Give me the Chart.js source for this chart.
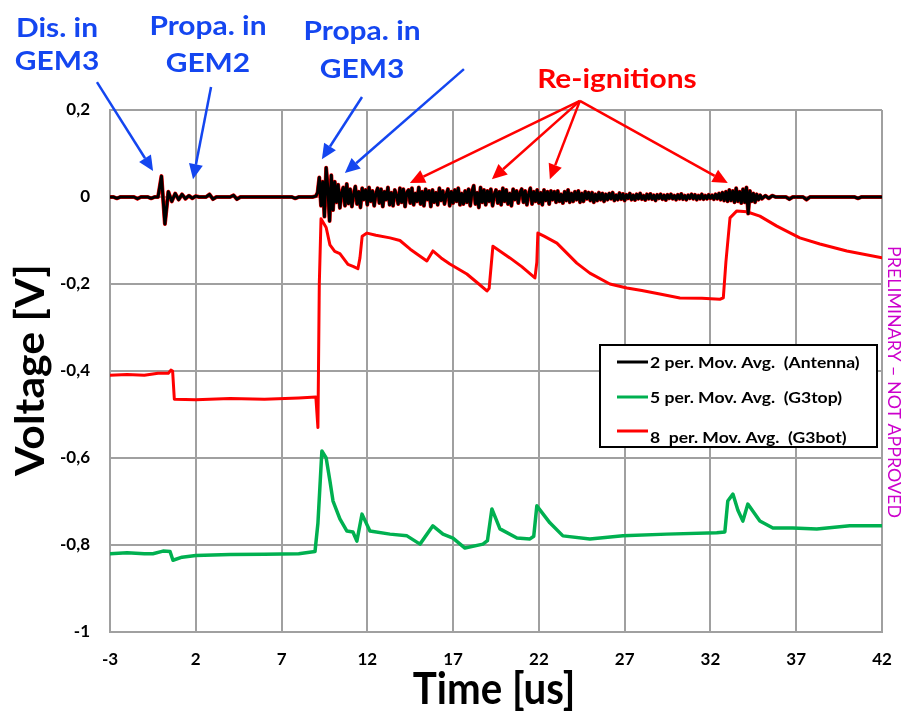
<!DOCTYPE html>
<html>
<head>
<meta charset="utf-8">
<script src="https://cdn.jsdelivr.net/npm/chart.js@4"></script>
<style>
  html, body { margin: 0; padding: 0; background: #fff; }
  #wrap { width: 902px; height: 723px; }
</style>
</head>
<body>
<div id="wrap"><canvas id="chart" width="902" height="723"></canvas></div>
<script>
// axis ticks
const xTicks = [-3, 2, 7, 12, 17, 22, 27, 32, 37, 42];
const yTicks = [-1, -0.8, -0.6, -0.4, -0.2, 0, 0.2];

// antenna (2 per. mov. avg.)
// -3 .. 8.8 us, every 0.2 us
const antennaEarly = [
  0, 0, -0.003, 0, 0, 0, 0, 0, -0.004, 0,
  0, 0, -0.003, 0, 0, 0.048, -0.062, 0.012, -0.01, 0.008,
  -0.006, 0.006, -0.004, 0.003, -0.003, 0.002, 0, 0, 0, 0.006,
  -0.005, 0, 0, 0, 0, 0, 0.004, -0.005, 0, 0,
  0, 0, 0, 0, 0, 0, 0, 0, 0, 0,
  0, 0, 0, 0, -0.003, 0, 0, 0, 0, 0
];
// 9.0 .. 34.9 us, every 0.1 us
const antennaBurst = [
  0.002, 0.01, 0.045, -0.02, 0.035, -0.045, 0.067, 0.02, -0.055, 0.05,
  -0.03, 0.035, -0.012, 0.028, -0.025, 0.01, 0.022, -0.02, 0.03, -0.015,
  0.018, -0.022, 0.006, 0.024, -0.016, 0.012, -0.024, 0.02, -0.006, 0.016,
  -0.018, 0.022, -0.01, 0.014, -0.02, 0.008, 0.02, -0.014, 0.018, -0.022,
  0.012, -0.006, 0.022, -0.018, 0.01, -0.02, 0.016, 0.004, -0.016, 0.02,
  -0.012, 0.018, -0.022, 0.01, 0.016, -0.014, 0.02, -0.018, 0.008, -0.01,
  0.022, -0.016, 0.012, -0.02, 0.018, -0.006, 0.014, -0.022, 0.016, -0.012,
  0.01, -0.018, 0.02, -0.008, 0.014, -0.016, 0.006, 0.018, -0.02, 0.012,
  -0.014, 0.016, -0.01, 0.02, -0.018, 0.008, -0.016, 0.014, -0.012, 0.018,
  -0.02, 0.012, 0.026, -0.016, 0.01, -0.024, 0.022, -0.012, 0.016, -0.018,
  0.014, -0.01, 0.018, -0.02, 0.006, 0.016, -0.014, 0.012, -0.018, 0.02,
  -0.01, 0.016, -0.016, 0.008, -0.02, 0.018, -0.006, 0.014, -0.014, 0.01,
  0.018, -0.012, 0.014, -0.018, 0.006, 0.02, -0.016, 0.012, -0.01, 0.016,
  -0.014, 0.01, -0.018, 0.016, -0.008, 0.012, -0.016, 0.014, -0.006, 0.012,
  -0.012, 0.014, -0.01, 0.006, -0.014, 0.012, -0.008, 0.016, -0.012, 0.008,
  -0.01, 0.012, -0.006, 0.014, -0.012, 0.008, -0.01, 0.012, -0.004, 0.01,
  -0.008, 0.01, -0.012, 0.006, -0.008, 0.01, -0.006, 0.008, -0.01, 0.006,
  -0.006, 0.008, -0.004, 0.01, -0.008, 0.004, -0.006, 0.009, -0.005, 0.007,
  -0.008, 0.005, -0.003, 0.008, -0.006, 0.004, -0.007, 0.006, -0.004, 0.008,
  -0.005, 0.003, -0.007, 0.006, -0.004, 0.007, -0.005, 0.004, -0.008, 0.005,
  -0.003, 0.006, -0.005, 0.004, -0.007, 0.005, -0.003, 0.006, -0.004, 0.003,
  -0.006, 0.005, -0.004, 0.007, -0.005, 0.003, -0.006, 0.004, -0.003, 0.006,
  -0.004, 0.005, -0.006, 0.003, -0.004, 0.006, -0.005, 0.003, -0.004, 0.005,
  -0.003, 0.004, -0.005, 0.006, -0.004, 0.008, -0.006, 0.01, -0.008, 0.012,
  -0.01, 0.016, -0.008, 0.014, -0.012, 0.02, -0.01, 0.012, -0.014, 0.018,
  -0.012, 0.022, -0.038, 0.014, -0.01, 0.008, -0.012, 0.006, -0.006, 0.004
];
// 35.0 .. 42.0 us, every 0.2 us
const antennaTail = [
  -0.004, 0.003, -0.003, 0.003, 0, 0, 0, 0, -0.005, 0,
  0, 0, 0, -0.006, 0, 0, 0, 0, 0, 0,
  0, 0, 0, 0, 0, 0, 0, 0, -0.003, 0,
  0, 0, 0, 0, 0, 0
];
const antennaSegments = [
  { start: -3, step: 0.2, volts: antennaEarly },
  { start: 9, step: 0.1, volts: antennaBurst },
  { start: 35, step: 0.2, volts: antennaTail },
];

// G3bot (8 per. mov. avg.)
const g3botTime = [
  -3, -2, -1, -0.2, 0.4, 0.55, 0.65, 0.75, 2, 4, 6, 8,
  9.0, 9.12, 9.2, 9.3, 9.6, 9.82, 10.1, 10.4, 10.87, 11.2, 11.45, 11.57,
  11.7, 11.98, 12.5, 13.32, 13.9, 14.5, 14.89, 15.47, 15.82, 16.3, 16.81, 17.8,
  18.5, 18.97, 19.1, 19.32, 20.31, 21.0, 21.77, 21.88, 21.94, 22.3, 23.05, 24.21,
  24.97, 26.14, 27.13, 28.0, 29.05, 30.22, 31.5, 32.55, 32.75, 32.9, 33.14, 33.54,
  34.12, 34.88, 35.87, 37.21, 38.38, 39.95, 42.0
];
const g3botVolt = [
  -0.41, -0.408, -0.41, -0.405, -0.405, -0.398, -0.4, -0.465, -0.466, -0.463, -0.465, -0.462,
  -0.46, -0.53, -0.2, -0.05, -0.07, -0.11, -0.125, -0.13, -0.155, -0.16, -0.165, -0.14,
  -0.09, -0.083, -0.088, -0.094, -0.1, -0.12, -0.131, -0.147, -0.124, -0.14, -0.154, -0.177,
  -0.2, -0.216, -0.21, -0.113, -0.14, -0.16, -0.186, -0.15, -0.083, -0.09, -0.106, -0.152,
  -0.175, -0.2, -0.209, -0.215, -0.223, -0.232, -0.233, -0.235, -0.232, -0.15, -0.048, -0.032,
  -0.034, -0.044, -0.067, -0.094, -0.108, -0.124, -0.14
];

// G3top (5 per. mov. avg.)
const g3topTime = [
  -3, -2, -1, -0.5, 0.09, 0.5, 0.67, 1.2, 2, 4, 6, 8,
  8.95, 9.12, 9.35, 9.6, 9.82, 10.0, 10.4, 10.81, 11.16, 11.39, 11.69, 12.15,
  13.32, 14.31, 15.07, 15.82, 16.41, 16.99, 17.69, 18.74, 19.0, 19.26, 19.73, 20.72,
  21.48, 21.7, 21.88, 22.64, 23.4, 24.97, 26.9, 29.46, 32.37, 32.84, 33.01, 33.31,
  33.6, 33.89, 34.18, 34.88, 35.64, 36.8, 38.2, 40.12, 42.0
];
const g3topVolt = [
  -0.82, -0.818, -0.82, -0.82, -0.814, -0.815, -0.835, -0.828, -0.824, -0.822, -0.821, -0.82,
  -0.815, -0.75, -0.584, -0.6, -0.653, -0.699, -0.74, -0.768, -0.77, -0.791, -0.729, -0.768,
  -0.775, -0.779, -0.798, -0.756, -0.775, -0.784, -0.807, -0.798, -0.79, -0.717, -0.763, -0.784,
  -0.786, -0.78, -0.71, -0.749, -0.779, -0.786, -0.779, -0.775, -0.772, -0.77, -0.699, -0.683,
  -0.72, -0.745, -0.706, -0.745, -0.761, -0.761, -0.763, -0.756, -0.756
];

const legendLabels = [
  { text: '2 per. Mov. Avg.  (Antenna)', color: '#000000' },
  { text: '5 per. Mov. Avg.  (G3top)', color: '#00B050' },
  { text: '8  per. Mov. Avg.  (G3bot)', color: '#FF0000' },
];

// callouts, in data units (time, voltage)
const blueNotes = [
  { lines: ['Dis. in', 'GEM3'], t: -6.09, v: [0.389, 0.313] },
  { lines: ['Propa. in', 'GEM2'], t: 2.71, v: [0.393, 0.308] },
  { lines: ['Propa. in', 'GEM3'], t: 11.69, v: [0.382, 0.294] },
];
const blueArrows = [
  [-3.76, 0.264, -0.49, 0.060],
  [2.89, 0.253, 1.84, 0.041],
  [11.69, 0.230, 9.35, 0.087],
  [17.63, 0.294, 10.69, 0.055],
];
const redNote = { text: 'Re-ignitions', t: 26.55, v: 0.271 };
const redArrows = [
  [24.39, 0.221, 14.48, 0.032],
  [24.39, 0.221, 19.26, 0.041],
  [24.39, 0.221, 22.64, 0.041],
  [24.39, 0.221, 33.01, 0.032],
];

const BLUE = '#1446F0';
const RED = '#FF0000';
const FONT = 'Lato, "Open Sans", sans-serif';

const antennaPts = antennaSegments.flatMap((seg) =>
  seg.volts.map((v, i) => ({ x: +(seg.start + i * seg.step).toFixed(2), y: v })));
const zip = (ts, vs) => ts.map((t, i) => ({ x: t, y: vs[i] }));

// stretched text, the original uses a tall narrow face
function text(ctx, s, x, y, font, sx, sy, rot) {
  ctx.save();
  ctx.translate(x, y);
  if (rot) ctx.rotate(rot);
  ctx.scale(sx, sy);
  ctx.font = font;
  ctx.fillText(s, 0, 0);
  ctx.restore();
}

function arrow(ctx, x1, y1, x2, y2, color) {
  const ang = Math.atan2(y2 - y1, x2 - x1);
  const head = 15, half = 7;
  const bx = x2 - head * Math.cos(ang), by = y2 - head * Math.sin(ang);
  ctx.strokeStyle = color;
  ctx.fillStyle = color;
  ctx.lineWidth = 2.5;
  ctx.beginPath();
  ctx.moveTo(x1, y1);
  ctx.lineTo(bx, by);
  ctx.stroke();
  ctx.beginPath();
  ctx.moveTo(x2, y2);
  ctx.lineTo(bx + half * Math.sin(ang), by - half * Math.cos(ang));
  ctx.lineTo(bx - half * Math.sin(ang), by + half * Math.cos(ang));
  ctx.closePath();
  ctx.fill();
}

const overlay = {
  id: 'overlay',
  afterDraw(chart) {
    const { ctx, chartArea, scales: { x, y } } = chart;
    const px = (t) => x.getPixelForValue(t);
    const py = (v) => y.getPixelForValue(v);
    ctx.save();

    // axis titles
    ctx.fillStyle = '#000';
    ctx.textAlign = 'center';
    ctx.textBaseline = 'middle';
    text(ctx, 'Time [us]', 494, 690, `bold 35px ${FONT}`, 1.15, 1.25);
    text(ctx, 'Voltage [V]', 31, 370, `bold 35px ${FONT}`, 1.22, 1.15, -Math.PI / 2);

    // watermark
    ctx.fillStyle = '#CC00CC';
    text(ctx, 'PRELIMINARY \u2013 NOT APPROVED', chartArea.right + 11, 382, `17px ${FONT}`, 1.05, 1, Math.PI / 2);

    // legend box
    ctx.fillStyle = '#fff';
    ctx.fillRect(600, 345, 277, 102);
    ctx.strokeStyle = '#000';
    ctx.lineWidth = 2;
    ctx.strokeRect(600, 345, 277, 102);
    const rows = [362, 397, 431];
    ctx.textAlign = 'left';
    legendLabels.forEach((item, i) => {
      ctx.strokeStyle = item.color;
      ctx.lineWidth = 3;
      ctx.beginPath();
      ctx.moveTo(617, rows[i]);
      ctx.lineTo(648, rows[i]);
      ctx.stroke();
      ctx.fillStyle = '#000';
      text(ctx, item.text, 650, rows[i] + 1 + (i === 2 ? 6 : 0), `bold 15px ${FONT}`, 1.17, 1.05);
    });

    // callouts
    ctx.textAlign = 'center';
    ctx.fillStyle = BLUE;
    blueNotes.forEach((n) => {
      n.lines.forEach((s, i) => text(ctx, s, px(n.t), py(n.v[i]), `bold 26px ${FONT}`, 1.15, 1.05));
    });
    blueArrows.forEach((a) => arrow(ctx, px(a[0]), py(a[1]), px(a[2]), py(a[3]), BLUE));
    ctx.fillStyle = RED;
    text(ctx, redNote.text, px(redNote.t), py(redNote.v), `bold 26px ${FONT}`, 1.15, 1.05);
    redArrows.forEach((a) => arrow(ctx, px(a[0]), py(a[1]), px(a[2]), py(a[3]), RED));

    ctx.restore();
  },
};

const ctx = document.getElementById('chart').getContext('2d');
new Chart(ctx, {
  type: 'line',
  data: {
    datasets: [
      { label: 'Antenna', data: antennaPts, borderColor: '#000', borderWidth: 3 },
      { label: 'Antenna halo', data: antennaPts, borderColor: RED, borderWidth: 4 },
      { label: 'G3bot', data: zip(g3botTime, g3botVolt), borderColor: RED, borderWidth: 3 },
      { label: 'G3top', data: zip(g3topTime, g3topVolt), borderColor: '#00B050', borderWidth: 3.5 },
    ],
  },
  options: {
    responsive: false,
    animation: false,
    layout: { padding: { left: 0, right: 20, top: 110, bottom: 0 } },
    elements: { point: { radius: 0 }, line: { tension: 0, borderJoinStyle: 'round', borderCapStyle: 'round' } },
    plugins: { legend: { display: false }, tooltip: { enabled: false } },
    scales: {
      x: {
        type: 'linear',
        min: -3,
        max: 42,
        afterBuildTicks: (s) => { s.ticks = xTicks.map((v) => ({ value: v })); },
        afterFit: (s) => { s.height = 91; s.paddingLeft = 0; s.paddingRight = 0; },
        grid: { color: '#A0A0A0', lineWidth: 2, drawTicks: false },
        border: { color: '#A0A0A0', width: 2 },
        ticks: { color: '#000', padding: 17, maxRotation: 0, font: { family: FONT, size: 17, weight: 'bold' } },
      },
      y: {
        type: 'linear',
        min: -1,
        max: 0.2,
        afterBuildTicks: (s) => { s.ticks = yTicks.map((v) => ({ value: v })); },
        afterFit: (s) => { s.width = 110; s.paddingTop = 0; s.paddingBottom = 0; },
        grid: { color: '#A0A0A0', lineWidth: 2, drawTicks: false },
        border: { color: '#A0A0A0', width: 2 },
        ticks: {
          color: '#000',
          padding: 20,
          font: { family: FONT, size: 17, weight: 'bold' },
          callback: (v) => (Number.isInteger(v) ? String(v) : v.toFixed(1).replace('.', ',')),
        },
      },
    },
  },
  plugins: [overlay],
});
</script>
</body>
</html>
